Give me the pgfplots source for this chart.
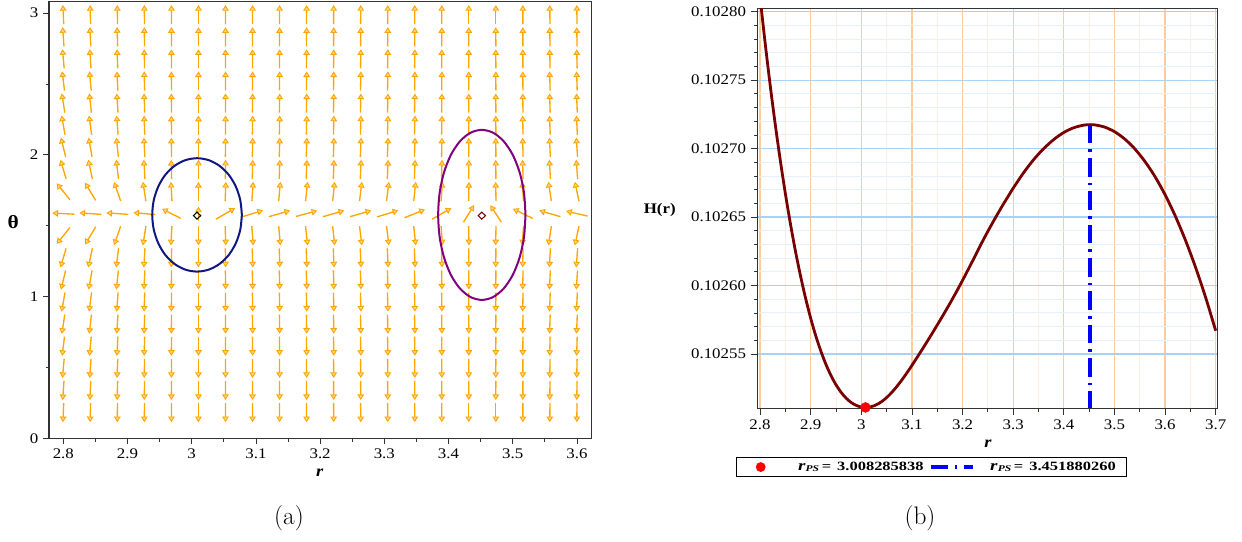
\documentclass[border=0pt]{standalone}
\usepackage{fontspec}
\usepackage{pgfplots}
\pgfplotsset{compat=1.18}
\usepackage{pgfplotstable}
\usepackage{xstring}
\usetikzlibrary{arrows.meta}
\newfontfamily\tfont{Liberation Serif}[FakeStretch=1.15]
\newfontfamily\lfont{Liberation Serif}[FakeStretch=1.3]
\definecolor{arrowor}{RGB}{255,165,0}
\definecolor{navyc}{RGB}{16,24,128}
\definecolor{purplec}{RGB}{128,0,128}
\definecolor{maroonc}{RGB}{120,0,0}
\definecolor{gridor}{RGB}{255,204,153}
\definecolor{gridorl}{RGB}{255,238,224}
\definecolor{gridbl}{RGB}{170,210,245}
\definecolor{gridbll}{RGB}{228,240,252}
\newcommand\hstrip[1]{\edef\hstripin{#1}\IfSubStr{\hstripin}{0.102}{\StrBehind{\hstripin}{0.102}[\hstripres]\edef\pgfmathresult{\hstripres}}{\let\pgfmathresult\hstripin}}
\tikzset{arrst/.style={arrowor, line width=1pt, -{Triangle[length=4.2pt,width=5pt,fill=arrowor!45,line width=0.7pt]}}}

\pgfplotstableread{
x yu yl t
2.8000 1.741 1.429 -39
2.8000 1.897 1.273 -16.3
2.8000 2.053 1.117 -13.7
2.8000 2.209 0.961 -10.1
2.8000 2.365 0.805 -8.8
2.8000 2.521 0.649 -6.9
2.8000 2.677 0.493 -5.1
2.8000 2.833 0.337 -3.9
2.8000 2.989 0.181 -2.3
2.8421 1.741 1.429 -31
2.8421 1.897 1.273 -12.2
2.8421 2.053 1.117 -10.2
2.8421 2.209 0.961 -7.5
2.8421 2.365 0.805 -6.5
2.8421 2.521 0.649 -5.1
2.8421 2.677 0.493 -3.8
2.8421 2.833 0.337 -2.9
2.8421 2.989 0.181 -1.7
2.8842 1.741 1.429 -19
2.8842 1.897 1.273 -7.1
2.8842 2.053 1.117 -5.9
2.8842 2.209 0.961 -4.3
2.8842 2.365 0.805 -3.7
2.8842 2.521 0.649 -3.0
2.8842 2.677 0.493 -2.2
2.8842 2.833 0.337 -1.7
2.8842 2.989 0.181 -1.0
2.9263 1.741 1.429 -9
2.9263 1.897 1.273 -3.3
2.9263 2.053 1.117 -2.7
2.9263 2.209 0.961 -2.0
2.9263 2.365 0.805 -1.7
2.9263 2.521 0.649 -1.4
2.9263 2.677 0.493 -1.0
2.9263 2.833 0.337 -0.8
2.9263 2.989 0.181 -0.5
2.9684 1.741 1.429 -3
2.9684 1.897 1.273 -1.1
2.9684 2.053 1.117 -0.9
2.9684 2.209 0.961 -0.7
2.9684 2.365 0.805 -0.6
2.9684 2.521 0.649 -0.4
2.9684 2.677 0.493 -0.3
2.9684 2.833 0.337 -0.3
2.9684 2.989 0.181 -0.1
3.0105 1.741 1.429 0
3.0105 1.897 1.273 0
3.0105 2.053 1.117 0
3.0105 2.209 0.961 0
3.0105 2.365 0.805 0
3.0105 2.521 0.649 0
3.0105 2.677 0.493 0
3.0105 2.833 0.337 0
3.0105 2.989 0.181 0
3.0526 1.741 1.429 2
3.0526 1.897 1.273 0.7
3.0526 2.053 1.117 0.6
3.0526 2.209 0.961 0.4
3.0526 2.365 0.805 0.4
3.0526 2.521 0.649 0.3
3.0526 2.677 0.493 0.2
3.0526 2.833 0.337 0.2
3.0526 2.989 0.181 0.1
3.0947 1.741 1.429 4
3.0947 1.897 1.273 1.4
3.0947 2.053 1.117 1.2
3.0947 2.209 0.961 0.9
3.0947 2.365 0.805 0.8
3.0947 2.521 0.649 0.6
3.0947 2.677 0.493 0.4
3.0947 2.833 0.337 0.3
3.0947 2.989 0.181 0.2
3.1368 1.741 1.429 5
3.1368 1.897 1.273 1.8
3.1368 2.053 1.117 1.5
3.1368 2.209 0.961 1.1
3.1368 2.365 0.805 0.9
3.1368 2.521 0.649 0.7
3.1368 2.677 0.493 0.5
3.1368 2.833 0.337 0.4
3.1368 2.989 0.181 0.2
3.1789 1.741 1.429 6
3.1789 1.897 1.273 2.2
3.1789 2.053 1.117 1.8
3.1789 2.209 0.961 1.3
3.1789 2.365 0.805 1.1
3.1789 2.521 0.649 0.9
3.1789 2.677 0.493 0.7
3.1789 2.833 0.337 0.5
3.1789 2.989 0.181 0.3
3.2211 1.741 1.429 6
3.2211 1.897 1.273 2.2
3.2211 2.053 1.117 1.8
3.2211 2.209 0.961 1.3
3.2211 2.365 0.805 1.1
3.2211 2.521 0.649 0.9
3.2211 2.677 0.493 0.7
3.2211 2.833 0.337 0.5
3.2211 2.989 0.181 0.3
3.2632 1.741 1.429 7
3.2632 1.897 1.273 2.5
3.2632 2.053 1.117 2.1
3.2632 2.209 0.961 1.6
3.2632 2.365 0.805 1.3
3.2632 2.521 0.649 1.1
3.2632 2.677 0.493 0.8
3.2632 2.833 0.337 0.6
3.2632 2.989 0.181 0.4
3.3053 1.741 1.429 7
3.3053 1.897 1.273 2.5
3.3053 2.053 1.117 2.1
3.3053 2.209 0.961 1.6
3.3053 2.365 0.805 1.3
3.3053 2.521 0.649 1.1
3.3053 2.677 0.493 0.8
3.3053 2.833 0.337 0.6
3.3053 2.989 0.181 0.4
3.3474 1.741 1.429 6
3.3474 1.897 1.273 2.2
3.3474 2.053 1.117 1.8
3.3474 2.209 0.961 1.3
3.3474 2.365 0.805 1.1
3.3474 2.521 0.649 0.9
3.3474 2.677 0.493 0.7
3.3474 2.833 0.337 0.5
3.3474 2.989 0.181 0.3
3.3895 1.741 1.429 4
3.3895 1.897 1.273 1.4
3.3895 2.053 1.117 1.2
3.3895 2.209 0.961 0.9
3.3895 2.365 0.805 0.8
3.3895 2.521 0.649 0.6
3.3895 2.677 0.493 0.4
3.3895 2.833 0.337 0.3
3.3895 2.989 0.181 0.2
3.4316 1.741 1.429 1
3.4316 1.897 1.273 0.4
3.4316 2.053 1.117 0.3
3.4316 2.209 0.961 0.2
3.4316 2.365 0.805 0.2
3.4316 2.521 0.649 0.1
3.4316 2.677 0.493 0.1
3.4316 2.833 0.337 0.1
3.4316 2.989 0.181 0
3.4737 1.741 1.429 -1
3.4737 1.897 1.273 -0.4
3.4737 2.053 1.117 -0.3
3.4737 2.209 0.961 -0.2
3.4737 2.365 0.805 -0.2
3.4737 2.521 0.649 -0.1
3.4737 2.677 0.493 -0.1
3.4737 2.833 0.337 -0.1
3.4737 2.989 0.181 0
3.5158 1.741 1.429 -4
3.5158 1.897 1.273 -1.4
3.5158 2.053 1.117 -1.2
3.5158 2.209 0.961 -0.9
3.5158 2.365 0.805 -0.8
3.5158 2.521 0.649 -0.6
3.5158 2.677 0.493 -0.4
3.5158 2.833 0.337 -0.3
3.5158 2.989 0.181 -0.2
3.5579 1.741 1.429 -9
3.5579 1.897 1.273 -3.3
3.5579 2.053 1.117 -2.7
3.5579 2.209 0.961 -2.0
3.5579 2.365 0.805 -1.7
3.5579 2.521 0.649 -1.4
3.5579 2.677 0.493 -1.0
3.5579 2.833 0.337 -0.8
3.5579 2.989 0.181 -0.5
3.6000 1.741 1.429 -12
3.6000 1.897 1.273 -4.4
3.6000 2.053 1.117 -3.7
3.6000 2.209 0.961 -2.7
3.6000 2.365 0.805 -2.3
3.6000 2.521 0.649 -1.8
3.6000 2.677 0.493 -1.3
3.6000 2.833 0.337 -1.0
3.6000 2.989 0.181 -0.6
}\arrtab

\pgfplotstableread{
x y p L
2.8000 1.585 177 22
2.8421 1.585 176 22
2.8842 1.585 176 22
2.9263 1.585 175 22
2.9684 1.585 153 21
3.0105 1.585 90 14
3.0526 1.585 30 22
3.0947 1.585 17 22
3.1368 1.585 16 22
3.1789 1.585 15 22
3.2211 1.585 16 22
3.2632 1.585 16 22
3.3053 1.585 17 22
3.3474 1.585 22 22
3.3895 1.585 30 22
3.4316 1.585 58 20
3.4737 1.585 123 20
3.5158 1.585 154 22
3.5579 1.585 164 22
3.6000 1.585 167 22
}\midtab

\pgfplotstableread{
r H
2.800 0.1028109
2.810 0.1027775
2.820 0.1027465
2.830 0.1027179
2.840 0.1026915
2.850 0.1026673
2.860 0.1026452
2.870 0.1026251
2.880 0.1026070
2.890 0.1025907
2.900 0.1025762
2.910 0.1025634
2.920 0.1025523
2.930 0.1025426
2.940 0.1025344
2.950 0.1025276
2.960 0.1025221
2.970 0.1025178
2.980 0.1025146
2.990 0.1025125
3.000 0.1025113
3.0083 0.1025110
3.020 0.1025116
3.030 0.1025130
3.040 0.1025152
3.050 0.1025182
3.060 0.1025219
3.070 0.1025262
3.080 0.1025310
3.090 0.1025362
3.100 0.1025417
3.110 0.1025474
3.120 0.1025532
3.130 0.1025591
3.140 0.1025651
3.150 0.1025712
3.160 0.1025774
3.170 0.1025837
3.180 0.1025902
3.190 0.1025969
3.200 0.1026038
3.210 0.1026109
3.220 0.1026181
3.230 0.1026254
3.240 0.1026327
3.250 0.1026396
3.260 0.1026463
3.270 0.1026528
3.280 0.1026591
3.290 0.1026651
3.300 0.1026711
3.320 0.1026821
3.340 0.1026918
3.360 0.1026999
3.380 0.1027066
3.400 0.1027118
3.420 0.1027153
3.440 0.1027172
3.452 0.1027175
3.460 0.1027174
3.480 0.1027158
3.500 0.1027124
3.520 0.1027071
3.540 0.1026999
3.560 0.1026907
3.580 0.1026796
3.600 0.1026663
3.620 0.1026509
3.640 0.1026333
3.660 0.1026135
3.680 0.1025914
3.700 0.1025670
}\curvetab

\pgfplotstableread{
r H
3.008285838 0.1025110
}\dottab

\pgfplotstableread{
r H
3.451880260 0.1027175
3.451880260 0.1025104
}\linetab

\begin{document}
\begin{tikzpicture}
\path[use as bounding box] (0,0) rectangle (931.5pt,406.5pt);
% ---------------- (a) ----------------
\begin{axis}[
  at={(36.75pt,77.8pt)}, anchor=south west,
  scale only axis, width=407pt, height=327.5pt,
  xmin=2.7777, xmax=3.623, ymin=0, ymax=3.081,
  xtick={2.8,2.9,3,3.1,3.2,3.3,3.4,3.5,3.6}, minor x tick num=1,
  ytick={0,1,2,3}, minor y tick num=1,
  tick pos=left, tick align=outside,
  major tick length=4.5pt, minor tick length=2.5pt,
  tick style={black!80, line width=0.6pt},
  axis line style={black!80, line width=0.8pt},
  /pgf/number format/assume math mode=true,
  tick label style={font=\tfont\fontsize{11}{12}\selectfont},
  xlabel={\textbf{\textit{r}}},
  xlabel style={at={(axis description cs:0.499,-0.08)}, anchor=center, font=\tfont\fontsize{12}{13}\selectfont},
  ylabel={\textbf{θ}},
  ylabel style={rotate=-90, at={(axis description cs:-0.066,0.496)}, anchor=center, font=\tfont\fontsize{14}{15}\selectfont},
  declare function={fx(\a)=(19+3*abs(sin(\a)))*sin(\a)/642; fy(\a)=(19+3*abs(sin(\a)))*cos(\a)/141.5;},
]
\addplot[arrst, quiver={u={fx(\thisrow{t})}, v={fy(\thisrow{t})}}]
  table[x expr={\thisrow{x}-0.5*fx(\thisrow{t})}, y expr={\thisrow{yu}-0.5*fy(\thisrow{t})}] {\arrtab};
\addplot[arrst, quiver={u={fx(\thisrow{t})}, v={-fy(\thisrow{t})}}]
  table[x expr={\thisrow{x}-0.5*fx(\thisrow{t})}, y expr={\thisrow{yl}+0.5*fy(\thisrow{t})}] {\arrtab};
\addplot[arrst, quiver={u={\thisrow{L}*cos(\thisrow{p})/642}, v={\thisrow{L}*sin(\thisrow{p})/141.5}}]
  table[x expr={\thisrow{x}-0.5*\thisrow{L}*cos(\thisrow{p})/642}, y expr={\thisrow{y}-0.5*\thisrow{L}*sin(\thisrow{p})/141.5}] {\midtab};
\addplot[navyc, line width=1.5pt, smooth] coordinates {
(3.0781,1.576) (3.0757,1.6795) (3.0687,1.776) (3.0577,1.8588) (3.0432,1.9224) (3.0264,1.9624)
(3.0083,1.976) (2.9902,1.9624) (2.9734,1.9224) (2.9589,1.8588) (2.9479,1.776) (2.9409,1.6795)
(2.9385,1.576) (2.9409,1.4725) (2.9479,1.376) (2.9589,1.2932) (2.9734,1.2296) (2.9902,1.1896)
(3.0083,1.176) (3.0264,1.1896) (3.0432,1.2296) (3.0577,1.2932) (3.0687,1.376) (3.0757,1.4725)
(3.0781,1.576)};
\addplot[purplec, line width=1.5pt, smooth] coordinates {
(3.5199,1.576) (3.5176,1.7313) (3.5108,1.876) (3.5000,2.0003) (3.4859,2.0956) (3.4695,2.1556)
(3.4519,2.176) (3.4343,2.1556) (3.4179,2.0956) (3.4038,2.0003) (3.3930,1.876) (3.3862,1.7313)
(3.3839,1.576) (3.3862,1.4207) (3.3930,1.276) (3.4038,1.1517) (3.4179,1.0564) (3.4343,0.9964)
(3.4519,0.976) (3.4695,0.9964) (3.4859,1.0564) (3.5000,1.1517) (3.5108,1.276) (3.5176,1.4207)
(3.5199,1.576)};
\addplot[only marks, mark=diamond, mark size=2.6pt, black, mark options={xscale=1.4, line width=0.8pt, fill=white}] coordinates {(3.008285838,1.5708)};
\addplot[only marks, mark=diamond, mark size=2.6pt, maroonc, mark options={xscale=1.4, line width=0.8pt, fill=white}] coordinates {(3.451880260,1.5708)};
\end{axis}
% ---------------- (b) ----------------
\begin{axis}[
  at={(568pt,100.3pt)}, anchor=south west,
  scale only axis, width=345.3pt, height=299.5pt,
  xmin=2.7947, xmax=3.704,
  y coord trafo/.code={\hstrip{#1}},
  ymin=0.1025104, ymax=0.1028020,
  xtick={2.8,2.9,3,3.1,3.2,3.3,3.4,3.5,3.6,3.7}, minor x tick num=1,
  ytick={0.1025500,0.1026000,0.1026500,0.1027000,0.1027500,0.1028000},
  yticklabels={0.10255,0.10260,0.10265,0.10270,0.10275,0.10280},
  minor y tick num=4,
  grid=both,
  major x grid style={color=gridor, line width=0.9pt},
  minor x grid style={color=gridorl, line width=0.7pt},
  major y grid style={color=gridbl, line width=0.9pt},
  minor y grid style={color=gridbll, line width=0.7pt},
  tick pos=left, tick align=outside,
  major tick length=5pt, minor tick length=2.5pt,
  tick style={black!80, line width=0.6pt},
  axis line style={black!80, line width=0.8pt},
  /pgf/number format/assume math mode=true,
  tick label style={font=\tfont\fontsize{11}{12}\selectfont},
  xlabel={\textbf{\textit{r}}},
  xlabel style={at={(axis description cs:0.501,-0.0877)}, anchor=center, font=\tfont\fontsize{12}{13}\selectfont},
  ylabel={\textbf{H(r)}},
  ylabel style={rotate=-90, at={(axis description cs:-0.212,0.4966)}, anchor=center, font=\tfont\fontsize{11}{12}\selectfont},
  legend columns=2,
  legend style={at={(axis description cs:0.3785,-0.1228)}, anchor=north,
    draw=black, line width=0.8pt, fill=white, inner xsep=6pt, inner ysep=1pt,
    font=\lfont\fontsize{9.5}{11}\selectfont,
    /tikz/every odd column/.append style={column sep=10pt},
    /tikz/every even column/.append style={column sep=2pt}},
]
\addplot[maroonc, line width=2.1pt, smooth, forget plot] table[x=r, y=H] {\curvetab};
\addplot[blue, line width=2.6pt, dash pattern=on 14pt off 4.5pt on 2pt off 4.5pt, forget plot]
  table[x=r, y=H] {\linetab};
\addplot[only marks, mark=*, mark size=3.7pt, red, mark options={draw=red, fill=red},
  legend image code/.code={\path[draw=none] (0pt,0pt) -- (28pt,0pt); \fill[red, draw=none] (12pt,0pt) circle (3.7pt);}]
  table[x=r, y=H] {\dottab};
\addlegendentry{\textbf{{\fontsize{11}{11}\selectfont\textit{r}}\textsubscript{\textit{PS}}\,=\hspace{4.5pt}3.008285838}}
\addlegendimage{blue, line width=2.4pt, legend image code/.code={\draw[blue, line width=2.4pt, dash pattern=on 13pt off 5pt on 2pt off 5pt] (0pt,0pt) -- (31.5pt,0pt);}}
\addlegendentry{\textbf{{\fontsize{11}{11}\selectfont\textit{r}}\textsubscript{\textit{PS}}\,=\hspace{4.5pt}3.451880260}}
\end{axis}
\node[font=\fontsize{19}{22}\selectfont] at (216.75pt,18pt) {(a)};
\node[font=\fontsize{19}{22}\selectfont] at (690pt,18pt) {(b)};
\end{tikzpicture}
\end{document}
